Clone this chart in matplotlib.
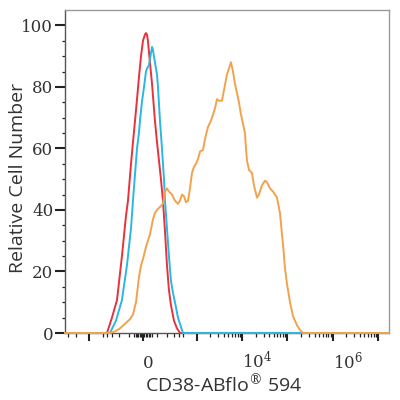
import numpy as np
import matplotlib
matplotlib.use("Agg")
import matplotlib.pyplot as plt

# histogram data (fluorescence, relative count)
red_x = [-3400, -395, -301, -226, -167, -127, -109, -84, -69, -54, -40, -27, -13, 0, 13, 20,
         27, 33, 47, 62, 84, 101, 118, 136, 156, 178, 201, 226, 254, 301, 355, 416, 1.75e7]
red_y = [0, 0, 5, 10.7, 25, 38, 43, 55, 62, 69, 76, 83, 90, 95, 97, 97.5,
         97, 95, 88, 81, 69, 62, 56, 50, 43, 33, 22, 14, 9, 4, 1.5, 0, 0]

cyan_x = [-3400, -336, -240, -167, -118, -84, -69, -40, -27, -20, -7, 7, 20, 27, 40, 47, 62,
          69, 84, 101, 109, 127, 146, 167, 178, 201, 226, 254, 285, 318, 374, 488, 1.75e7]
cyan_y = [0, 0, 4, 10.7, 22, 34, 43, 60, 65, 69, 75, 80, 85, 86, 87, 89, 93,
          92, 88, 84, 80, 69, 60, 50, 43, 34, 25, 17, 13, 10, 5, 0, 0]

orange_x = [-3400, -336, -254, -189, -136, -92, -69, -47, -27, -13, 0, 20, 33, 47, 69, 84, 101,
            127, 156, 178, 201, 226, 269, 318, 374, 416, 463, 515, 571, 634, 703, 779, 864,
            957, 1061, 1175, 1370, 1517, 1768, 2061, 2281, 2526, 2796, 3096, 3606, 3993,
            4650, 5148, 5699, 6309, 6985, 7733, 8561, 9476, 10490, 11613, 12220, 12857,
            14235, 16575, 18343, 21372, 23660, 27560, 32097, 35529, 41392, 48204, 59085,
            68809, 76167, 80145, 88725, 98215, 114400, 133250, 163280, 190190, 221520, 1.75e7]
orange_y = [0, 0, 0.5, 1.5, 3, 4.5, 6, 10, 18, 22, 24, 28, 30, 32, 37, 39, 40,
            41, 42, 46, 47, 46, 45, 43, 42, 43, 45, 44.5, 42.5, 43, 47, 52, 54,
            55, 56.5, 59, 59.5, 63, 67, 69, 71, 73, 76, 75.5, 75.5, 79,
            84, 86, 88, 85, 81, 78, 75, 71, 68, 65, 60, 56,
            53, 52, 48, 44, 45, 48, 49.5, 49, 47, 46, 44,
            39, 32, 29, 21, 16, 10, 5.5, 2.5, 1, 0, 0]

xmajor = [-1000, 0, 1e3, 1e4, 1e5, 1e6, 1e7]
xmajor_labels = ['', '0', '', r'$10^{4}$', '', r'$10^{6}$', '']
W = 130.0


def fwd(x):
    return np.arcsinh(np.asarray(x, dtype=float) / W)


def inv(y):
    return W * np.sinh(np.asarray(y, dtype=float))


plt.rcParams['mathtext.fontset'] = 'dejavuserif'

fig = plt.figure(figsize=(4, 4), dpi=100)
ax = fig.add_axes([0.1625, 0.1675, 0.81, 0.8075])
ax.set_xscale('function', functions=(fwd, inv))

ax.plot(red_x, red_y, color='#e8323c', lw=1.4, clip_on=False, zorder=3)
ax.plot(cyan_x, cyan_y, color='#2bb7e3', lw=1.4, clip_on=False, zorder=4)
ax.plot(orange_x, orange_y, color='#f3a24c', lw=1.4, clip_on=False, zorder=5)

ax.set_xlim(-3420, 1.755e7)
ax.set_ylim(0, 105)

# x ticks
minor = [-3000, -2000]
minor += [s * k for s in (-1, 1) for k in (100, 200, 300, 400, 500)]
minor += [s * k for s in (-1, 1) for k in (10, 20, 30, 40, 50, 60)]
for p in range(3, 7):
    minor += [k * 10 ** p for k in range(2, 10)]
ax.set_xticks(xmajor)
ax.set_xticklabels(xmajor_labels, fontsize=12)
ax.set_xticks(minor, minor=True)
ax.tick_params(axis='x', which='major', direction='out', length=5.5, width=1.5,
               pad=20, color='#222222')
ax.tick_params(axis='x', which='minor', direction='out', length=2.8, width=0.9,
               color='#222222')
for lab in ax.get_xticklabels():
    lab.set_horizontalalignment('left')
    lab.set_verticalalignment('baseline')
    lab.set_fontfamily('DejaVu Serif')
    lab.set_color('#333333')

# y ticks
ax.set_yticks([0, 20, 40, 60, 80, 100])
ax.set_yticks(np.arange(0, 105, 5), minor=True)
ax.tick_params(axis='y', which='major', direction='out', length=7, width=1.5,
               pad=1.5, labelsize=12, color='#222222')
ax.tick_params(axis='y', which='minor', direction='out', length=2.5, width=0.9,
               color='#222222')
for lab in ax.get_yticklabels():
    lab.set_fontfamily('DejaVu Serif')
    lab.set_color('#333333')

for side in ['left', 'bottom']:
    ax.spines[side].set_color('#555555')
for side in ['top', 'right']:
    ax.spines[side].set_color('#9a9a9a')
for sp in ax.spines.values():
    sp.set_linewidth(1.0)

ax.set_ylabel('Relative Cell Number', fontsize=14, family='Open Sans', color='#333333')
ax.yaxis.set_label_coords(-0.117, 0.481)
ax.set_xlabel(r'CD38-ABflo$^{\circledR}$ 594', fontsize=14, family='Open Sans', color='#333333')
ax.xaxis.set_label_coords(0.489, -0.125)

fig.savefig('out.png', dpi=100)
